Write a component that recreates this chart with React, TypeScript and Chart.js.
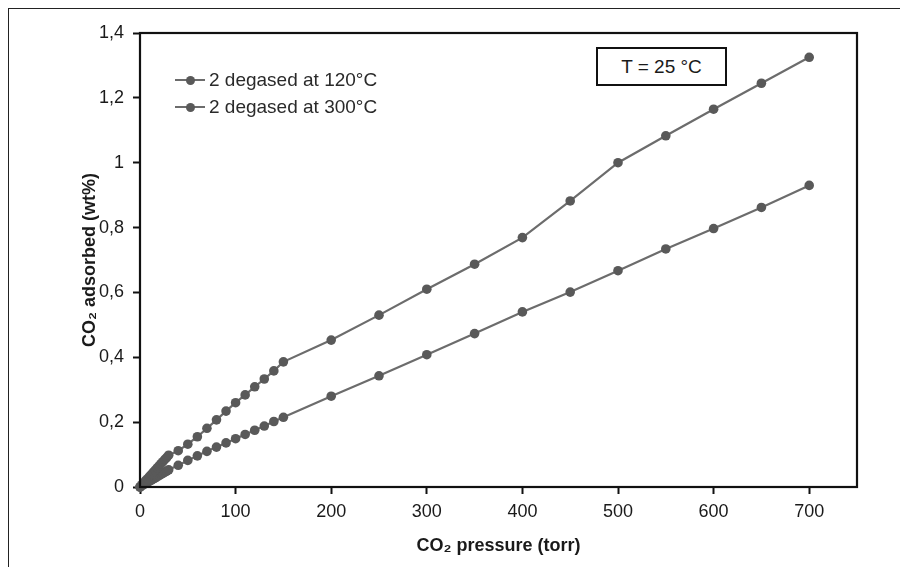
import { useEffect, useRef } from "react";
import { Chart, registerables } from "chart.js";
Chart.register(...registerables);

const pressureTorr = [0, 2, 4, 6, 8, 10, 12, 14, 16, 18, 20, 22, 24, 26, 28, 30, 40, 50, 60, 70, 80, 90, 100, 110, 120, 130, 140, 150, 200, 250, 300, 350, 400, 450, 500, 550, 600, 650, 700];
const adsorbed120 = [0, 0.007, 0.013, 0.02, 0.026, 0.033, 0.039, 0.046, 0.052, 0.059, 0.065, 0.072, 0.078, 0.085, 0.091, 0.098, 0.112, 0.132, 0.155, 0.181, 0.207, 0.234, 0.26, 0.284, 0.309, 0.333, 0.358, 0.386, 0.453, 0.53, 0.61, 0.687, 0.769, 0.882, 1.0, 1.083, 1.165, 1.245, 1.325];
const adsorbed300 = [0, 0.004, 0.007, 0.011, 0.014, 0.018, 0.021, 0.025, 0.028, 0.032, 0.035, 0.039, 0.042, 0.046, 0.049, 0.053, 0.067, 0.082, 0.096, 0.11, 0.123, 0.136, 0.149, 0.162, 0.175, 0.188, 0.202, 0.215, 0.28, 0.343, 0.408, 0.473, 0.54, 0.601, 0.667, 0.734, 0.797, 0.862, 0.93];
const seriesLabels = ["2 degased at 120°C", "2 degased at 300°C"];
const xAxisTitle = "CO₂ pressure (torr)";
const yAxisTitle = "CO₂ adsorbed (wt%)";
const annotationText = "T = 25 °C";

const FONT = "'Liberation Sans', Arial, sans-serif";
const LINE = "#6c6c6c";
const MARK = "#595959";

const boxPlugin = {
  id: "plotBox",
  afterDraw(chart: any) {
    const { ctx, chartArea } = chart;
    ctx.save();
    ctx.strokeStyle = "#111";
    ctx.lineWidth = 2.2;
    ctx.strokeRect(chartArea.left, chartArea.top, chartArea.right - chartArea.left, chartArea.bottom - chartArea.top);
    ctx.restore();
  },
};

export default function App() {
  const ref = useRef<HTMLCanvasElement | null>(null);
  useEffect(() => {
    if (!ref.current) return;
    const mk = (ys: number[]) => pressureTorr.map((x, i) => ({ x, y: ys[i] }));
    const ds = (label: string, ys: number[]) => ({
      label,
      data: mk(ys),
      showLine: true,
      borderColor: LINE,
      borderWidth: 2.2,
      backgroundColor: MARK,
      pointBackgroundColor: MARK,
      pointBorderWidth: 0,
      pointRadius: 4.8,
      clip: false as any,
    });
    const chart = new Chart(ref.current, {
      type: "scatter",
      data: { datasets: [ds(seriesLabels[0], adsorbed120), ds(seriesLabels[1], adsorbed300)] },
      options: {
        animation: false,
        responsive: false,
        devicePixelRatio: 1,
        layout: { padding: { top: 25, right: 51, left: 0, bottom: 0 } },
        plugins: { legend: { display: false }, tooltip: { enabled: false } },
        scales: {
          x: {
            type: "linear",
            min: 0,
            max: 750,
            border: { display: false },
            grid: { drawOnChartArea: false, drawTicks: true, tickLength: 7, tickWidth: 2, tickColor: "#111" },
            ticks: { stepSize: 100, includeBounds: false, padding: 7, color: "#1a1a1a", font: { family: FONT, size: 18 } },
            title: { display: true, text: xAxisTitle, color: "#1a1a1a", padding: { top: 0, bottom: 10 }, font: { family: FONT, size: 18, weight: "bold" } },
            afterFit: (s: any) => { s.height = 80; },
          },
          y: {
            type: "linear",
            min: 0,
            max: 1.4,
            border: { display: false },
            grid: { drawOnChartArea: false, drawTicks: true, tickLength: 7, tickWidth: 2, tickColor: "#111" },
            ticks: {
              stepSize: 0.2,
              padding: 9,
              color: "#1a1a1a",
              font: { family: FONT, size: 18 },
              callback: (v: any) => String(Math.round(Number(v) * 10) / 10).replace(".", ","),
            },
            title: { display: true, text: yAxisTitle, color: "#1a1a1a", padding: { top: 71, bottom: 0 }, font: { family: FONT, size: 18, weight: "bold" } },
            afterFit: (s: any) => { s.width = 132; },
          },
        },
      },
      plugins: [boxPlugin],
    });
    return () => chart.destroy();
  }, []);

  const legendRow = (label: string, top: number) => (
    <div key={label} style={{ position: "absolute", left: 167, top: top - 12, height: 24, display: "flex", alignItems: "center" }}>
      <div style={{ position: "relative", width: 30, height: 24 }}>
        <div style={{ position: "absolute", left: 0, top: 11, width: 30, height: 2, background: LINE }} />
        <div style={{ position: "absolute", left: 10.5, top: 7.5, width: 9, height: 9, borderRadius: 5, background: MARK }} />
      </div>
      <span style={{ marginLeft: 4, fontFamily: FONT, fontSize: 19, color: "#2a2a2a", whiteSpace: "nowrap" }}>{label}</span>
    </div>
  );

  return (
    <div style={{ position: "relative", width: 900, height: 559, background: "#fff" }}>
      <div style={{ position: "absolute", left: -1, top: -1, width: 901, height: 560, borderTop: "2px solid #222", borderLeft: "2px solid #222", boxSizing: "border-box" }} />
      <canvas ref={ref} width={900} height={559} style={{ position: "absolute", left: 0, top: 0 }} />
      {legendRow(seriesLabels[0], 72)}
      {legendRow(seriesLabels[1], 99)}
      <div style={{ position: "absolute", left: 588, top: 39, width: 131, height: 39, boxSizing: "border-box", border: "2px solid #111", display: "flex", alignItems: "center", justifyContent: "center", fontFamily: FONT, fontSize: 19, color: "#1a1a1a", background: "#fff" }}>
        {annotationText}
      </div>
    </div>
  );
}
